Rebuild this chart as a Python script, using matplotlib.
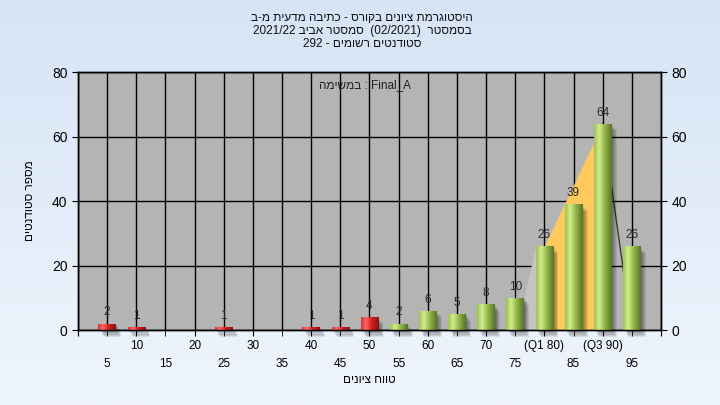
import re

import numpy as np
import matplotlib
import matplotlib.pyplot as plt
from matplotlib.colors import LinearSegmentedColormap
from matplotlib.patches import Rectangle

matplotlib.use('Agg')

# Grade bins (upper bound of each 5-point range) and number of students.
bins = [5, 10, 15, 20, 25, 30, 35, 40, 45, 50,
        55, 60, 65, 70, 75, 80, 85, 90, 95]
counts = [2, 1, 0, 0, 1, 0, 0, 1, 1, 4,
          2, 6, 5, 8, 10, 26, 39, 64, 26]
pass_mark = 55
q1, q3 = 80, 90

title_lines = ['היסטוגרמת ציונים בקורס - כתיבה מדעית מ-ב',
               'בסמסטר  (02/2021)  סמסטר אביב 2021/22',
               'סטודנטים רשומים - 292']
inner_label = 'Final_A : במשימה'
x_label = 'טווח ציונים'
y_label = 'מספר סטודנטים'

FONT = ['Liberation Sans Narrow', 'Liberation Sans', 'DejaVu Sans']
plt.rcParams['font.family'] = FONT


def rtl(s):
    """Hebrew text to visual (left-to-right) order for matplotlib."""
    r = s[::-1]
    r = re.sub(r'[0-9A-Za-z_/.]+', lambda m: m.group(0)[::-1], r)
    return r.translate(str.maketrans('()', ')('))


green = LinearSegmentedColormap.from_list(
    'green', [(0, '#9cc24c'), (0.28, '#d4ec92'), (0.55, '#9dbf4e'),
              (1, '#587428')])
red = LinearSegmentedColormap.from_list(
    'red', [(0, '#d83030'), (0.28, '#ff6a6a'), (0.55, '#dc2222'),
            (1, '#851414')])

fig = plt.figure(figsize=(7.2, 4.05), dpi=100)

# Light blue figure background.
bg = fig.add_axes([0, 0, 1, 1], zorder=-10)
bg.imshow(np.linspace(0, 1, 256)[:, None], aspect='auto',
          cmap=LinearSegmentedColormap.from_list('bg', ['#d6e4f5', '#eff5fd']),
          extent=(0, 1, 0, 1))
bg.set_axis_off()

ax = fig.add_axes([0.1083, 0.185, 0.8097, 0.637])
ax.set_facecolor('#b4b4b4')

w = 3.0
# Area behind the bars (quartile range).
i75, i80, i90 = bins.index(q1 - 5), bins.index(q1), bins.index(q3)
ax.fill_between([bins[i75] + w / 2, bins[i80] - w / 2],
                [counts[i75], counts[i80]], color='#c4c4c4', lw=0, zorder=1)
ax.fill_between([q1, q3], [counts[i80], counts[i90]], color='#ffc95c', lw=0,
                zorder=1)
ax.plot([q3, bins[i90 + 1]], [counts[i90], 0], color='#3a3a3a', lw=1,
        zorder=1)

grad = np.linspace(0, 1, 64)[None, :]
for x, c in zip(bins, counts):
    if c == 0:
        continue
    for k in range(1, 7):
        ax.add_patch(Rectangle((x - w / 2 + 0.15 * k, -0.35 * k), w, c,
                               facecolor='black', alpha=0.085, lw=0, zorder=3,
                               clip_on=False))
    rect = Rectangle((x - w / 2, 0), w, c, facecolor='none', lw=0, zorder=4)
    ax.add_patch(rect)
    im = ax.imshow(grad, cmap=red if x < pass_mark else green, aspect='auto',
                   extent=(x - w / 2, x + w / 2, 0, c), zorder=4,
                   interpolation='bicubic')
    im.set_clip_path(rect)
    ax.text(x, c + 1.6, str(c), ha='center', va='bottom', fontsize=8.5,
            color='#2a2a2a', zorder=5)

ax.set_xlim(0, 100)
ax.set_ylim(0, 80)

major = list(range(0, 101, 10))
major_labels = ['' if t in (0, 100) else str(t) for t in major]
major_labels[major.index(q1)] = f'(Q1 {q1})'
major_labels[major.index(q3)] = f'(Q3 {q3})'
ax.set_xticks(major)
ax.set_xticklabels(major_labels)
ax.set_xticks(bins[::2], minor=True)
ax.set_xticklabels([str(b) for b in bins[::2]], minor=True)
ax.tick_params(axis='x', which='both', direction='out', length=4,
               labelsize=8.5, colors='black')
ax.tick_params(axis='x', which='major', pad=3)
ax.tick_params(axis='x', which='minor', pad=16)

yticks = [0, 20, 40, 60, 80]
ax.set_yticks(yticks)
ax.tick_params(axis='y', direction='out', length=4, labelsize=10)
ax2 = ax.twinx()
ax2.set_ylim(0, 80)
ax2.set_yticks(yticks)
ax2.tick_params(axis='y', direction='out', length=4, labelsize=10)

ax.set_axisbelow(True)
ax.xaxis.grid(True, which='minor', color='black', lw=1)
ax.xaxis.grid(True, which='major', color='black', lw=1)
ax.yaxis.grid(True, color='black', lw=1)
for a in (ax, ax2):
    for s in a.spines.values():
        s.set_color('black')
        s.set_linewidth(1)

ax.text(0.492, 0.95, rtl(inner_label), transform=ax.transAxes, ha='center',
        va='center', fontsize=8.5, color='#202020', zorder=6)

ax.set_xlabel(rtl(x_label), fontsize=8.5, labelpad=3)
ax.set_ylabel(rtl(y_label), fontsize=8.5, labelpad=22)
ax.yaxis.set_label_coords(-0.072, 0.5)

for i, line in enumerate(title_lines):
    fig.text(0.503, 1 - (18 + 13 * i) / 405, rtl(line), ha='center',
             va='center', fontsize=8.5, color='#101010')

fig.savefig('out.png', dpi=100)
